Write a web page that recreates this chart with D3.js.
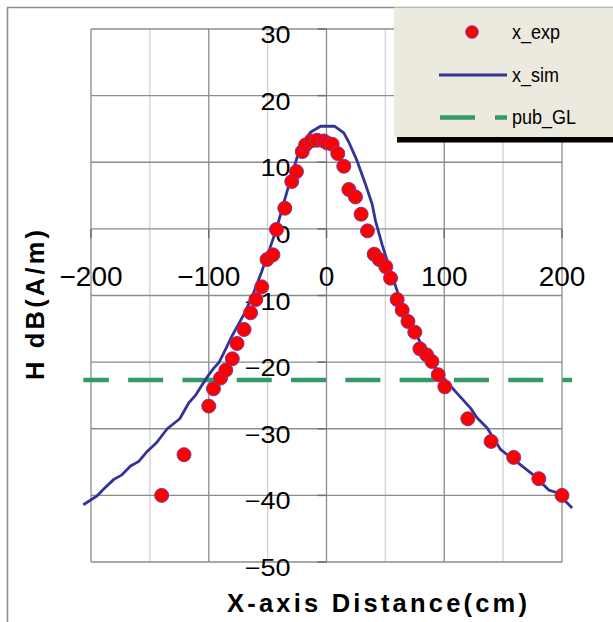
<!DOCTYPE html>
<html>
<head>
<meta charset="utf-8">
<script src="https://cdn.jsdelivr.net/npm/d3@7"></script>
<style>
  html, body { margin: 0; padding: 0; background: #fff; }
  svg { display: block; }
  text { font-family: "Liberation Sans", Arial, sans-serif; fill: #000; }
</style>
</head>
<body>
<svg id="chart" width="613" height="622"></svg>
<script>
// Measured field along the x axis
const expX = [-140, -121, -100, -96, -90, -85.5, -80, -76, -70, -64.5, -60, -55, -50.5, -45.5, -42.5, -35.4, -29.5, -25.5,
  -20.6, -17.8, -13, -7.9, -2.3, 0.5, 4.8, 9.6, 14.7, 19, 24.6, 29.4, 34.8, 40.5, 44.8, 50.4, 54.4, 60, 64.3, 69.2,
  75, 79.3, 85, 89.5, 94.9, 100.5, 120, 139.8, 159, 180.3, 200];
const expY = [-40.0, -33.9, -26.6, -24.0, -22.4, -21.2, -19.5, -17.2, -15.1, -12.6, -10.6, -8.7, -4.6, -3.9, -0.1, 3.1, 7.1, 8.6,
  11.6, 12.6, 13.2, 13.3, 13.2, 12.9, 12.7, 11.3, 9.4, 5.9, 4.8, 2.2, -0.3, -3.8, -4.6, -5.7, -7.4, -10.6, -12.2, -13.9,
  -15.5, -18.0, -18.9, -19.9, -21.9, -23.7, -28.5, -31.9, -34.3, -37.5, -40.0];

// Simulated field
const simX = [-206.5, -195, -189, -180.6, -174.4, -166.4, -159.4, -152.3, -144.4, -135.3, -124.6, -116.9, -111.3, -105.6,
  -100, -95.7, -91.5, -87.2, -80, -70, -63, -55, -50, -42.5, -35, -30.6, -22, -13.6, -5.1, 7, 14.7, 19, 26, 33.1,
  38.8, 41.6, 47.3, 53, 60, 62.8, 68.5, 78.4, 88.3, 99.6, 110, 122.3, 128, 136.5, 147.8, 153.5, 166.2, 176.1,
  188.8, 195.9, 208.6];
const simY = [-41.4, -40.1, -39.0, -37.6, -37.0, -35.6, -34.9, -33.4, -32.1, -30.0, -28.5, -26.1, -25.0, -23.4,
  -21.9, -20.9, -20.1, -18.6, -16.0, -12.8, -10.1, -6.4, -3.9, 0, 4.7, 7.4, 12.5, 14.5, 15.4, 15.4, 14.4, 13.0, 10.2, 6.7,
  3.7, 1.2, -2.4, -5.6, -9.3, -10.9, -13.6, -16.6, -19.9, -22.4, -24.5, -26.9, -28.4, -29.9, -33.1, -33.9, -35.6, -37.0,
  -39.2, -39.6, -41.9];

// Public guideline level
const guideX = [-206.5, 208.6];
const guideLevel = -22.7;

const xTicks = [-200, -100, 0, 100, 200];
const xGrid = [-200, -150, -100, -50, 0, 50, 100, 150, 200];
const yTicks = [30, 20, 10, 0, -10, -20, -30, -40, -50];

const legendNames = ["x_exp", "x_sim", "pub_GL"];

const svg = d3.select("#chart");

const x = d3.scaleLinear().domain([-200, 200]).range([91, 562]);
const y = d3.scaleLinear().domain([-50, 30]).range([562, 29]);
const fmt = d3.format("");

// outer chart frame
svg.append("rect")
  .attr("x", 7.5).attr("y", 7.5).attr("width", 640).attr("height", 640)
  .attr("fill", "#fff").attr("stroke", "#8c8c8c").attr("stroke-width", 1.5);

// gridlines
const grid = svg.append("g");
grid.selectAll("line.v").data(xGrid).join("line")
  .attr("x1", d => x(d)).attr("x2", d => x(d))
  .attr("y1", y(30)).attr("y2", y(-50))
  .attr("stroke", d => d % 100 === 0 ? "#8c8c8c" : "#d2d2d2")
  .attr("stroke-width", 1.3);
grid.selectAll("line.h").data(yTicks).join("line")
  .attr("x1", x(-200)).attr("x2", x(200))
  .attr("y1", d => y(d)).attr("y2", d => y(d))
  .attr("stroke", "#8c8c8c").attr("stroke-width", 1.3);

// tick marks on the axes crossing at zero
grid.selectAll("line.yt").data(yTicks).join("line")
  .attr("x1", x(0) - 9).attr("x2", x(0))
  .attr("y1", d => y(d)).attr("y2", d => y(d))
  .attr("stroke", "#6e6e6e").attr("stroke-width", 1.5);
grid.selectAll("line.xt").data(xTicks).join("line")
  .attr("x1", d => x(d)).attr("x2", d => x(d))
  .attr("y1", y(0)).attr("y2", y(0) + 9)
  .attr("stroke", "#6e6e6e").attr("stroke-width", 1.5);

// x tick labels
svg.append("g").selectAll("text").data(xTicks).join("text")
  .attr("x", d => x(d)).attr("y", y(0) + 57)
  .attr("text-anchor", "middle")
  .attr("font-size", 28)
  .text(d => fmt(d));

// y tick labels
svg.append("g").selectAll("text").data(yTicks).join("text")
  .attr("transform", d => `translate(${x(0) - 36},${y(d) + 14}) scale(1,0.86)`)
  .attr("text-anchor", "end")
  .attr("font-size", 27)
  .text(d => fmt(d));

// guideline
svg.append("line")
  .attr("x1", x(guideX[0])).attr("x2", x(guideX[1]))
  .attr("y1", y(guideLevel)).attr("y2", y(guideLevel))
  .attr("stroke", "#339966").attr("stroke-width", 4.5)
  .attr("stroke-dasharray", "35,19.3").attr("stroke-dashoffset", 9.5);

// simulation curve
const simData = simX.map((v, i) => [v, simY[i]]);
svg.append("path")
  .datum(simData)
  .attr("d", d3.line().x(d => x(d[0])).y(d => y(d[1])))
  .attr("fill", "none").attr("stroke", "#333399").attr("stroke-width", 2.8)
  .attr("stroke-linejoin", "round");

// measured points
const expData = expX.map((v, i) => [v, expY[i]]);
svg.append("g").selectAll("circle").data(expData).join("circle")
  .attr("cx", d => x(d[0])).attr("cy", d => y(d[1])).attr("r", 7)
  .attr("fill", "#ff0000").attr("stroke", "#7a3a9a").attr("stroke-width", 1);

// axis titles
svg.append("text")
  .attr("x", 377).attr("y", 611.5)
  .attr("text-anchor", "middle")
  .attr("font-size", 25.5).attr("font-weight", "bold")
  .attr("textLength", 300).attr("lengthAdjust", "spacing")
  .text("X-axis Distance(cm)");
svg.append("text")
  .attr("transform", "translate(43.5,305) rotate(-90)")
  .attr("text-anchor", "middle")
  .attr("font-size", 25.5).attr("font-weight", "bold")
  .attr("textLength", 150).attr("lengthAdjust", "spacing")
  .text("H dB(A/m)");

// legend
const lg = svg.append("g");
lg.append("rect").attr("x", 394).attr("y", 7.5).attr("width", 230).attr("height", 130)
  .attr("fill", "#ece9df");
lg.append("rect").attr("x", 397).attr("y", 137).attr("width", 230).attr("height", 5.5)
  .attr("fill", "#000");
const rows = [32, 75, 117.5];
lg.append("circle").attr("cx", 472).attr("cy", rows[0]).attr("r", 6.3)
  .attr("fill", "#ff0000").attr("stroke", "#7a3a9a").attr("stroke-width", 1);
lg.append("line").attr("x1", 439).attr("x2", 507).attr("y1", rows[1]).attr("y2", rows[1])
  .attr("stroke", "#333399").attr("stroke-width", 2.8);
lg.append("line").attr("x1", 440).attr("x2", 507).attr("y1", rows[2]).attr("y2", rows[2])
  .attr("stroke", "#339966").attr("stroke-width", 4.5)
  .attr("stroke-dasharray", "35,20");
lg.selectAll("text").data(legendNames).join("text")
  .attr("transform", (d, i) => `translate(512,${rows[i] + 6.5}) scale(1,1.15)`)
  .attr("font-size", 18)
  .text(d => d);
</script>
</body>
</html>
